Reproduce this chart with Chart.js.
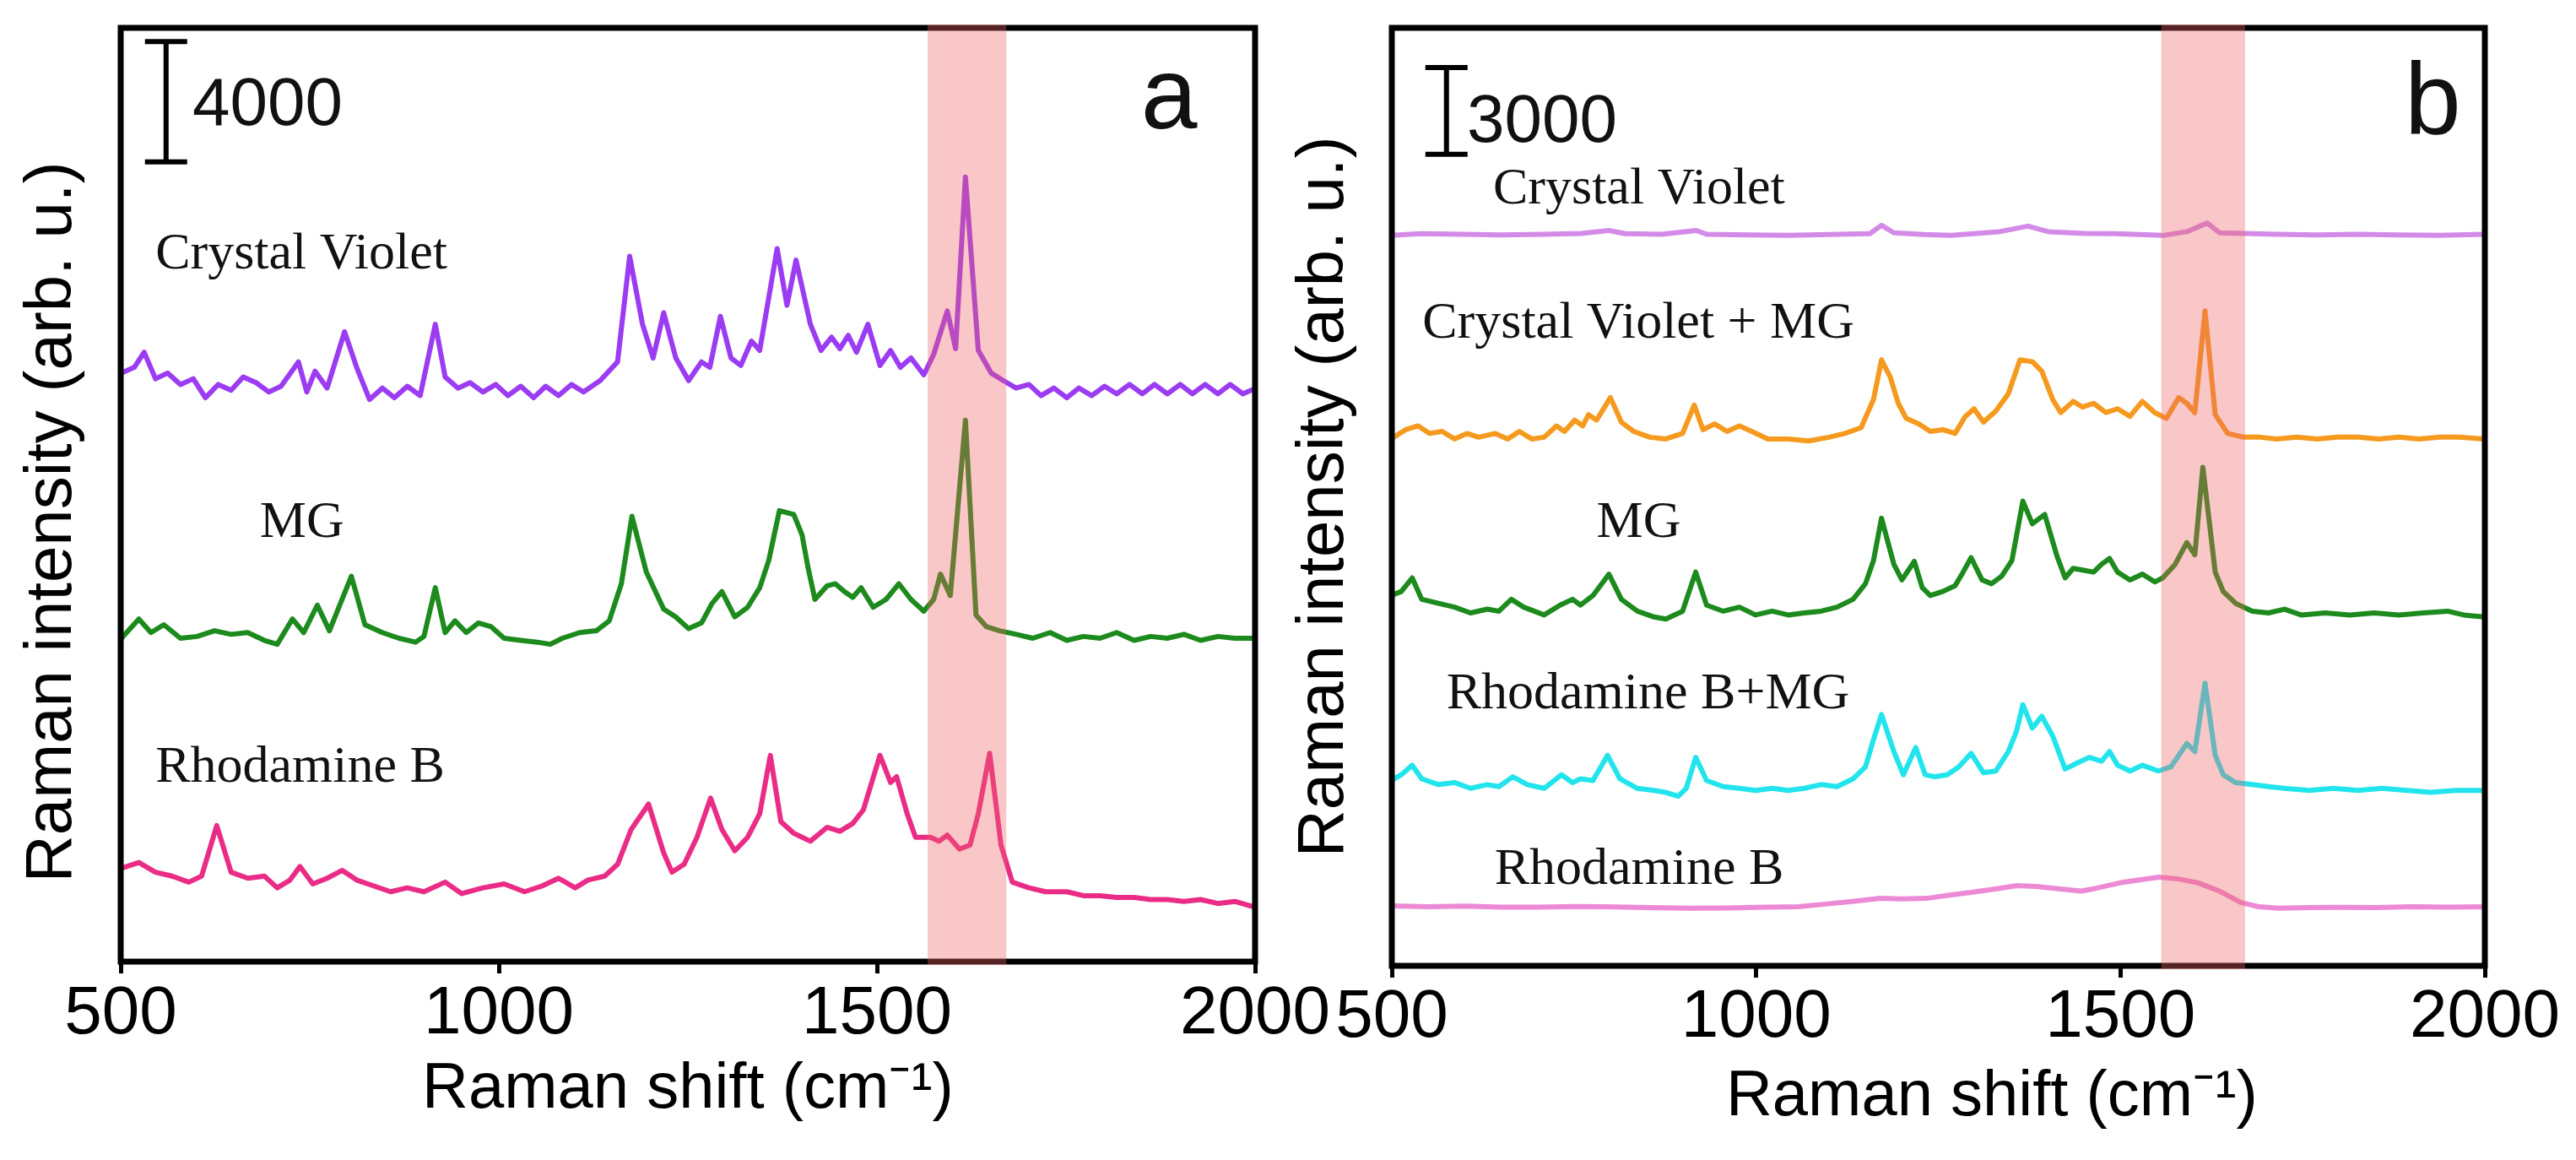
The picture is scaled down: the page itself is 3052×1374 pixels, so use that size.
<!DOCTYPE html>
<html>
<head>
<meta charset="utf-8">
<title>Raman spectra a / b</title>
<script src="https://cdn.jsdelivr.net/npm/chart.js@4.4.1/dist/chart.umd.min.js"></script>
<style>
  html, body { margin: 0; padding: 0; background: #fff; }
  #wrap { position: relative; width: 3052px; height: 1374px; overflow: hidden; }
  canvas { position: absolute; top: 0; }
  #chartA { left: 0; width: 1600px; height: 1374px; }
  #chartB { left: 1500px; width: 1552px; height: 1374px; }
</style>
</head>
<body>
<div id="wrap">
  <canvas id="chartA" width="1600" height="1374"></canvas>
  <canvas id="chartB" width="1552" height="1374"></canvas>
</div>
<script>
// Raman spectra, two panels (a, b)
// x = Raman shift (cm-1), y = intensity (arb. u.) with stacking offset already in the values

const xTicks = [500, 1000, 1500, 2000];
const namesA = ['Crystal Violet', 'MG', 'Rhodamine B'];
const namesB = ['Crystal Violet', 'Crystal Violet + MG', 'MG', 'Rhodamine B+MG', 'Rhodamine B'];

// panel a
const cvA = [[501,19550],[518,19740],[531,20240],[546,19360],[562,19550],[579,19170],[596,19360],[612,18730],[629,19170],[646,18980],[662,19420],[679,19230],[696,18920],[712,19110],[735,19920],[746,18920],[757,19610],[773,19050],[796,20920],[812,19740],[829,18670],[846,19050],[862,18730],[879,19110],[896,18800],[916,21170],[929,19420],[946,19050],[962,19230],[979,18920],[996,19170],[1012,18800],[1029,19110],[1046,18730],[1062,19110],[1079,18800],[1096,19170],[1112,18920],[1134,19300],[1157,19920],[1173,23430],[1190,21170],[1204,20050],[1218,21550],[1234,20050],[1251,19300],[1268,19920],[1279,19740],[1293,21430],[1307,20050],[1320,19800],[1334,20610],[1345,20300],[1368,23680],[1381,21800],[1393,23300],[1412,21170],[1426,20300],[1440,20740],[1451,20360],[1462,20800],[1473,20240],[1488,21170],[1504,19800],[1518,20300],[1531,19740],[1545,20050],[1562,19490],[1575,20170],[1593,21610],[1604,20360],[1617,26060],[1634,20300],[1651,19550],[1667,19300],[1684,19050],[1701,19170],[1717,18800],[1734,19050],[1751,18730],[1767,19050],[1784,18800],[1801,19110],[1817,18860],[1834,19170],[1851,18860],[1867,19170],[1884,18860],[1901,19170],[1917,18860],[1934,19170],[1951,18860],[1967,19170],[1984,18860],[2001,19050]];

const mgA = [[501,10740],[524,11380],[540,10930],[557,11190],[579,10740],[601,10800],[624,10990],[646,10870],[668,10930],[690,10670],[707,10540],[727,11380],[742,10930],[760,11840],[776,10990],[805,12800],[823,11190],[846,10930],[868,10740],[890,10610],[901,10800],[916,12420],[929,10930],[942,11320],[957,10930],[973,11250],[990,11120],[1007,10740],[1029,10670],[1051,10610],[1068,10540],[1084,10740],[1107,10930],[1129,10990],[1146,11320],[1162,12550],[1176,14790],[1195,12940],[1218,11710],[1234,11450],[1251,11060],[1268,11250],[1282,11900],[1295,12290],[1312,11450],[1329,11770],[1345,12420],[1357,13330],[1371,14980],[1390,14850],[1401,14170],[1409,13070],[1418,12030],[1434,12480],[1445,12550],[1457,12290],[1468,12100],[1479,12420],[1495,11770],[1512,12030],[1529,12550],[1545,12030],[1562,11640],[1575,12030],[1584,12870],[1597,12160],[1617,17980],[1631,11510],[1645,11120],[1662,10990],[1684,10870],[1706,10740],[1729,10930],[1751,10670],[1773,10800],[1795,10740],[1817,10930],[1840,10670],[1862,10800],[1884,10740],[1906,10870],[1928,10670],[1951,10800],[1973,10740],[2001,10740]];

const rhA = [[501,3100],[524,3290],[546,2970],[568,2840],[590,2640],[607,2840],[627,4520],[646,2970],[668,2770],[690,2840],[707,2450],[724,2710],[737,3160],[754,2580],[773,2770],[793,3030],[812,2710],[835,2510],[857,2320],[879,2450],[901,2320],[929,2640],[951,2260],[979,2450],[1007,2580],[1034,2320],[1057,2510],[1079,2770],[1101,2450],[1118,2710],[1140,2840],[1157,3230],[1175,4390],[1198,5230],[1218,3610],[1229,2970],[1245,3230],[1262,4130],[1280,5430],[1295,4390],[1312,3680],[1329,4130],[1345,4910],[1359,6850],[1373,4650],[1390,4260],[1412,4000],[1434,4460],[1451,4330],[1468,4590],[1482,5040],[1504,6850],[1518,5950],[1526,6140],[1540,4910],[1551,4130],[1571,4130],[1582,4000],[1593,4200],[1609,3740],[1623,3870],[1634,4910],[1649,6920],[1664,3870],[1679,2640],[1701,2450],[1723,2320],[1751,2320],[1773,2190],[1795,2190],[1817,2130],[1840,2130],[1862,2060],[1884,2060],[1906,2000],[1928,2060],[1951,1930],[1973,2000],[2001,1800]];

// panel b
const cvB = [[499,25230],[540,25290],[597,25270],[650,25250],[709,25270],[760,25300],[798,25400],[820,25290],[870,25270],[918,25400],[932,25270],[990,25250],[1044,25230],[1100,25260],[1156,25290],[1172,25580],[1189,25320],[1230,25260],[1267,25230],[1334,25360],[1373,25550],[1401,25360],[1450,25300],[1491,25290],[1558,25230],[1591,25360],[1619,25660],[1636,25320],[1714,25270],[1770,25250],[1826,25270],[1880,25250],[1938,25230],[1999,25270]];

const cvmgB = [[499,18200],[519,18520],[536,18650],[552,18390],[569,18460],[586,18200],[603,18390],[619,18260],[642,18390],[659,18200],[675,18460],[692,18200],[709,18260],[726,18650],[737,18460],[751,18850],[762,18650],[770,19040],[781,18850],[800,19630],[815,18780],[832,18460],[854,18260],[876,18200],[899,18390],[915,19370],[927,18520],[943,18720],[960,18460],[977,18650],[994,18460],[1016,18200],[1044,18200],[1072,18130],[1100,18260],[1122,18390],[1144,18590],[1161,19560],[1172,20930],[1184,20340],[1195,19430],[1206,18910],[1223,18720],[1239,18460],[1256,18520],[1273,18390],[1287,18980],[1299,19240],[1312,18780],[1329,19170],[1346,19760],[1362,20930],[1379,20870],[1392,20540],[1407,19560],[1418,19110],[1435,19500],[1448,19300],[1463,19430],[1480,19110],[1496,19240],[1513,18980],[1530,19500],[1547,19110],[1563,18910],[1580,19630],[1591,19430],[1602,19110],[1616,22620],[1630,19040],[1647,18390],[1669,18260],[1692,18260],[1714,18200],[1742,18260],[1770,18200],[1798,18260],[1826,18260],[1854,18200],[1882,18260],[1910,18200],[1938,18260],[1965,18260],[1999,18200]];

const mgB = [[499,12790],[513,12930],[528,13400],[541,12660],[564,12520],[586,12390],[608,12190],[631,12320],[647,12250],[664,12660],[681,12390],[709,12120],[731,12460],[748,12660],[759,12460],[776,12790],[798,13530],[815,12660],[837,12250],[860,12050],[876,11980],[899,12250],[917,13600],[932,12460],[955,12250],[977,12390],[999,12120],[1022,12250],[1044,12120],[1066,12190],[1089,12250],[1111,12390],[1133,12660],[1150,13200],[1161,14000],[1172,15460],[1189,13870],[1200,13330],[1217,13970],[1228,13060],[1239,12790],[1256,12930],[1273,13130],[1284,13600],[1295,14100],[1310,13330],[1323,13200],[1337,13460],[1351,14000],[1366,16050],[1379,15270],[1396,15590],[1413,14140],[1424,13400],[1435,13730],[1448,13670],[1463,13600],[1474,13870],[1485,14070],[1496,13600],[1513,13330],[1530,13530],[1547,13260],[1558,13400],[1575,13870],[1591,14620],[1602,14200],[1613,17220],[1630,13600],[1641,12930],[1658,12520],[1681,12250],[1703,12190],[1725,12320],[1748,12120],[1781,12190],[1815,12120],[1848,12190],[1882,12120],[1915,12190],[1949,12250],[1971,12120],[1999,12050]];

const rhmgB = [[499,6400],[513,6600],[528,6930],[541,6460],[564,6260],[586,6330],[608,6130],[631,6260],[647,6190],[666,6530],[686,6260],[709,6130],[733,6600],[748,6330],[759,6460],[776,6400],[796,7270],[813,6460],[837,6130],[860,6060],[876,5990],[893,5860],[904,6130],[917,7200],[932,6400],[955,6190],[977,6130],[999,6060],[1022,6130],[1044,6060],[1066,6130],[1089,6260],[1111,6190],[1133,6460],[1150,6870],[1161,7810],[1172,8680],[1189,7400],[1202,6600],[1219,7540],[1232,6600],[1245,6530],[1262,6600],[1278,6870],[1295,7340],[1312,6670],[1329,6730],[1346,7400],[1357,8080],[1366,9020],[1379,8210],[1392,8620],[1407,7940],[1424,6800],[1440,7000],[1457,7200],[1474,7070],[1485,7400],[1496,6930],[1513,6730],[1530,6930],[1552,6730],[1569,6870],[1580,7270],[1591,7680],[1602,7400],[1616,9760],[1630,7270],[1641,6600],[1658,6330],[1681,6260],[1703,6190],[1725,6130],[1759,6060],[1792,6130],[1826,6060],[1859,6130],[1893,6060],[1926,5990],[1960,6060],[1999,6060]];

const rhB = [[499,2070],[550,2040],[600,2060],[650,2030],[700,2030],[750,2050],[791,2040],[850,2010],[909,1990],[960,2000],[1000,2020],[1057,2040],[1098,2140],[1135,2230],[1170,2330],[1200,2310],[1234,2330],[1265,2440],[1293,2530],[1330,2660],[1358,2770],[1385,2740],[1412,2670],[1446,2580],[1465,2670],[1500,2870],[1530,2980],[1553,3060],[1580,3000],[1606,2870],[1636,2580],[1665,2190],[1690,2040],[1717,1990],[1760,2010],[1800,2020],[1850,2010],[1900,2040],[1950,2030],[2000,2040]];

// decorations per panel (positions in data coords)
const decorA = {
  band: [1567, 1671],
  bar: { x: 560, from: 26560, size: 4000, text: '4000', tx: 595, ty: 27790 },
  letter: { text: 'a', x: 1849, y: 27680 },
  labels: [
    { text: namesA[0], x: 546, y: 23020 },
    { text: namesA[1], x: 684, y: 14110 },
    { text: namesA[2], x: 546, y: 5970 },
  ],
};
const decorB = {
  band: [1556, 1671],
  bar: { x: 575, from: 28030, size: 3000, text: '3000', tx: 603, ty: 28460 },
  letter: { text: 'b', x: 1890, y: 28755 },
  labels: [
    { text: namesB[0], x: 639, y: 26330 },
    { text: namesB[1], x: 542, y: 21700 },
    { text: namesB[2], x: 781, y: 14815 },
    { text: namesB[3], x: 575, y: 8895 },
    { text: namesB[4], x: 641, y: 2830 },
  ],
};

const sansFont = 'Liberation Sans';
const serifFont = 'Liberation Serif';

// frame, highlight band, scale bar, text labels
const panelDecor = {
  id: 'panelDecor',
  afterDatasetsDraw(chart, args, opts) {
    const { ctx, chartArea: area, scales: { x, y } } = chart;
    ctx.save();
    ctx.strokeStyle = '#000';
    ctx.lineWidth = 7;
    ctx.strokeRect(area.left, area.top, area.right - area.left, area.bottom - area.top);

    const b0 = x.getPixelForValue(opts.band[0]);
    const b1 = x.getPixelForValue(opts.band[1]);
    ctx.fillStyle = 'rgba(238, 100, 100, 0.36)';
    ctx.fillRect(b0, area.top - 4, b1 - b0, area.bottom - area.top + 8);

    const bx = x.getPixelForValue(opts.bar.x);
    const by0 = y.getPixelForValue(opts.bar.from);
    const by1 = y.getPixelForValue(opts.bar.from + opts.bar.size);
    ctx.lineWidth = 6;
    ctx.beginPath();
    ctx.moveTo(bx, by0); ctx.lineTo(bx, by1);
    ctx.moveTo(bx - 25, by0); ctx.lineTo(bx + 25, by0);
    ctx.moveTo(bx - 25, by1); ctx.lineTo(bx + 25, by1);
    ctx.stroke();

    ctx.fillStyle = '#111';
    ctx.textAlign = 'left';
    ctx.textBaseline = 'alphabetic';
    ctx.font = '80px "' + sansFont + '"';
    ctx.fillText(opts.bar.text, x.getPixelForValue(opts.bar.tx), y.getPixelForValue(opts.bar.ty));
    ctx.font = '120px "' + sansFont + '"';
    ctx.fillText(opts.letter.text, x.getPixelForValue(opts.letter.x), y.getPixelForValue(opts.letter.y));
    ctx.font = '62px "' + serifFont + '"';
    opts.labels.forEach(l => {
      ctx.fillText(l.text, x.getPixelForValue(l.x), y.getPixelForValue(l.y));
    });
    ctx.restore();
  }
};

function makeChart(id, o) {
  return new Chart(document.getElementById(id), {
    type: 'line',
    data: {
      datasets: o.series.map((s, i) => ({
        label: o.names[i],
        data: s,
        borderColor: o.colors[i],
        borderWidth: 6,
        pointRadius: 0,
        tension: 0,
        borderJoinStyle: 'round',
        borderCapStyle: 'round',
      }))
    },
    options: {
      responsive: false,
      devicePixelRatio: 1,
      animation: false,
      layout: { padding: { top: 33, right: o.padRight, bottom: 0, left: 0 } },
      plugins: {
        legend: { display: false },
        tooltip: { enabled: false },
        panelDecor: o.decor,
      },
      scales: {
        x: {
          type: 'linear',
          min: 500,
          max: 2000,
          afterBuildTicks: s => { s.ticks = xTicks.map(v => ({ value: v })); },
          afterFit: s => { s.height = o.xHeight; },
          ticks: {
            color: '#000',
            padding: o.tickPad,
            maxRotation: 0,
            autoSkip: false,
            font: { family: sansFont, size: 80 },
            callback: v => String(v),
          },
          grid: {
            display: true,
            drawOnChartArea: false,
            drawTicks: true,
            tickLength: 14,
            tickWidth: 5,
            tickColor: '#000',
          },
          border: { display: false },
          title: {
            display: true,
            text: o.xTitle,
            color: '#000',
            font: { family: sansFont, size: 76 },
            padding: { top: 0, bottom: o.xTitlePad },
          },
        },
        y: {
          min: 0,
          max: o.yMax,
          afterFit: s => { s.width = o.yWidth; },
          ticks: { display: false },
          grid: { display: false },
          border: { display: false },
          title: {
            display: true,
            text: o.yTitle,
            color: '#000',
            font: { family: sansFont, size: 78 },
            padding: { top: o.yTitlePad, bottom: 0 },
          },
        },
      },
    },
    plugins: [panelDecor],
  });
}

makeChart('chartA', {
  series: [cvA, mgA, rhA],
  names: namesA,
  colors: ['#9b3cf2', '#1c8a1c', '#ea2c86'],
  decor: decorA,
  padRight: 113,
  xHeight: 235,
  tickPad: 1,
  xTitle: 'Raman shift (cm\u207B\u00B9)',
  xTitlePad: 37,
  yMax: 31015,
  yWidth: 143,
  yTitle: 'Raman intensity (arb. u.)   ',
  yTitlePad: 16,
});

makeChart('chartB', {
  series: [cvB, cvmgB, mgB, rhmgB, rhB],
  names: namesB,
  colors: ['#d48be8', '#f59a1e', '#1c8a1c', '#22e4ec', '#ec8ad6'],
  decor: decorB,
  padRight: 108,
  xHeight: 230,
  tickPad: 0,
  xTitle: '      Raman shift (cm\u207B\u00B9)',
  xTitlePad: 28,
  yMax: 32400,
  yWidth: 149,
  yTitle: 'Raman intensity (arb. u.)',
  yTitlePad: 23,
});
</script>
</body>
</html>
